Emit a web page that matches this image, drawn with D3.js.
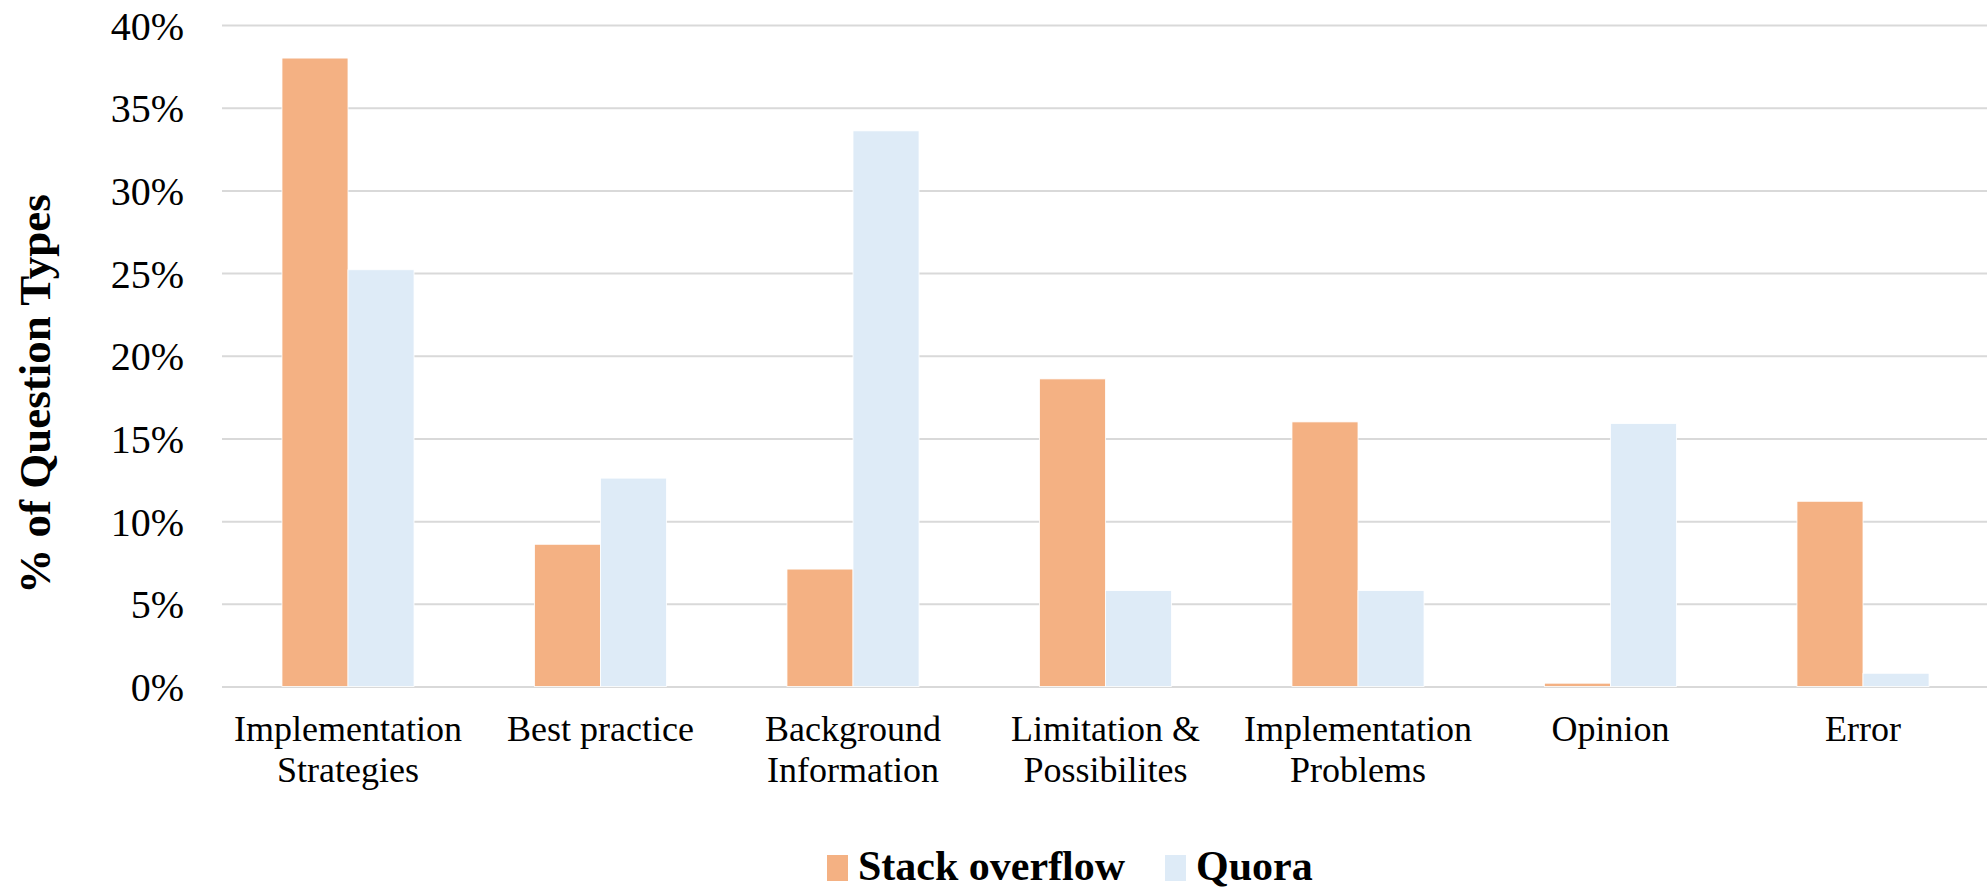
<!DOCTYPE html>
<html>
<head>
<meta charset="utf-8">
<script src="https://cdn.jsdelivr.net/npm/d3@7"></script>
<style>
  html, body { margin: 0; padding: 0; background: #ffffff; }
  svg { display: block; }
  text { font-family: "Times New Roman", "Liberation Serif", serif; fill: #000; }
</style>
</head>
<body>
<svg id="chart" width="1987" height="888"></svg>
<script>
// ---- data ----
const categories = [
  ["Implementation", "Strategies"],
  ["Best practice"],
  ["Background", "Information"],
  ["Limitation &", "Possibilites"],
  ["Implementation", "Problems"],
  ["Opinion"],
  ["Error"]
];
const seriesNames = ["Stack overflow", "Quora"];
const stackOverflow = [38.0, 8.6, 7.1, 18.6, 16.0, 0.2, 11.2];
const quora = [25.2, 12.6, 33.6, 5.8, 5.8, 15.9, 0.8];
const yTicks = [0, 5, 10, 15, 20, 25, 30, 35, 40];
const colors = ["#F4B183", "#DEEBF7"];

// ---- chart ----
const svg = d3.select("#chart");
const catKeys = categories.map(c => c.join(" "));

const x0 = d3.scaleBand()
  .domain(catKeys)
  .range([221.75, 1989.25])
  .paddingInner(0.477)
  .paddingOuter(0.2385);

const x1 = d3.scaleBand()
  .domain(seriesNames)
  .range([0, x0.bandwidth()]);

const y = d3.scaleLinear().domain([0, 40]).range([686.5, 25]);

// gridlines
const yAxis = d3.axisLeft(y)
  .tickValues(yTicks)
  .tickSize(-(1987 - 222))
  .tickFormat(d => d + "%");

const gAxis = svg.append("g")
  .attr("transform", "translate(222,0)")
  .call(yAxis);
gAxis.select(".domain").remove();
gAxis.selectAll(".tick line")
  .attr("stroke", "#D9D9D9")
  .attr("stroke-width", 2);
gAxis.selectAll(".tick text")
  .attr("x", -38)
  .attr("dy", "0.35em")
  .style("font-size", "40px")
  .style("font-family", "'Times New Roman', 'Liberation Serif', serif")
  .attr("fill", "#000");

// bars
const rows = catKeys.map((k, i) => ({ key: k, values: [stackOverflow[i], quora[i]] }));
const groups = svg.append("g").selectAll("g")
  .data(rows)
  .join("g")
  .attr("transform", d => `translate(${x0(d.key)},0)`);

groups.selectAll("rect")
  .data(d => d.values.map((v, j) => ({ name: seriesNames[j], v, j })))
  .join("rect")
  .attr("x", d => x1(d.name))
  .attr("width", x1.bandwidth())
  .attr("y", d => y(d.v))
  .attr("height", d => y(0) - y(d.v))
  .attr("fill", d => colors[d.j])
  .attr("stroke", "#ffffff")
  .attr("stroke-width", 0.8);

// category labels
const xAxisG = svg.append("g");
categories.forEach((lines, i) => {
  const cx = x0(catKeys[i]) + x0.bandwidth() / 2;
  const t = xAxisG.append("text")
    .attr("text-anchor", "middle")
    .style("font-size", "36px");
  lines.forEach((ln, li) => {
    t.append("tspan")
      .attr("x", cx)
      .attr("y", 741 + li * 41)
      .text(ln);
  });
});

// y-axis title
svg.append("text")
  .attr("transform", "translate(50,394) rotate(-90)")
  .attr("text-anchor", "middle")
  .style("font-size", "45px")
  .style("font-weight", "bold")
  .text("% of Question Types");

// legend
const legendItems = [
  { name: seriesNames[0], color: colors[0], x: 827 },
  { name: seriesNames[1], color: colors[1], x: 1165 }
];
const lg = svg.append("g");
legendItems.forEach(it => {
  lg.append("rect")
    .attr("x", it.x).attr("y", 855)
    .attr("width", 21).attr("height", 26)
    .attr("fill", it.color);
  lg.append("text")
    .attr("x", it.x + 31).attr("y", 880)
    .style("font-size", "42px")
    .style("font-weight", "bold")
    .text(it.name);
});
</script>
</body>
</html>
